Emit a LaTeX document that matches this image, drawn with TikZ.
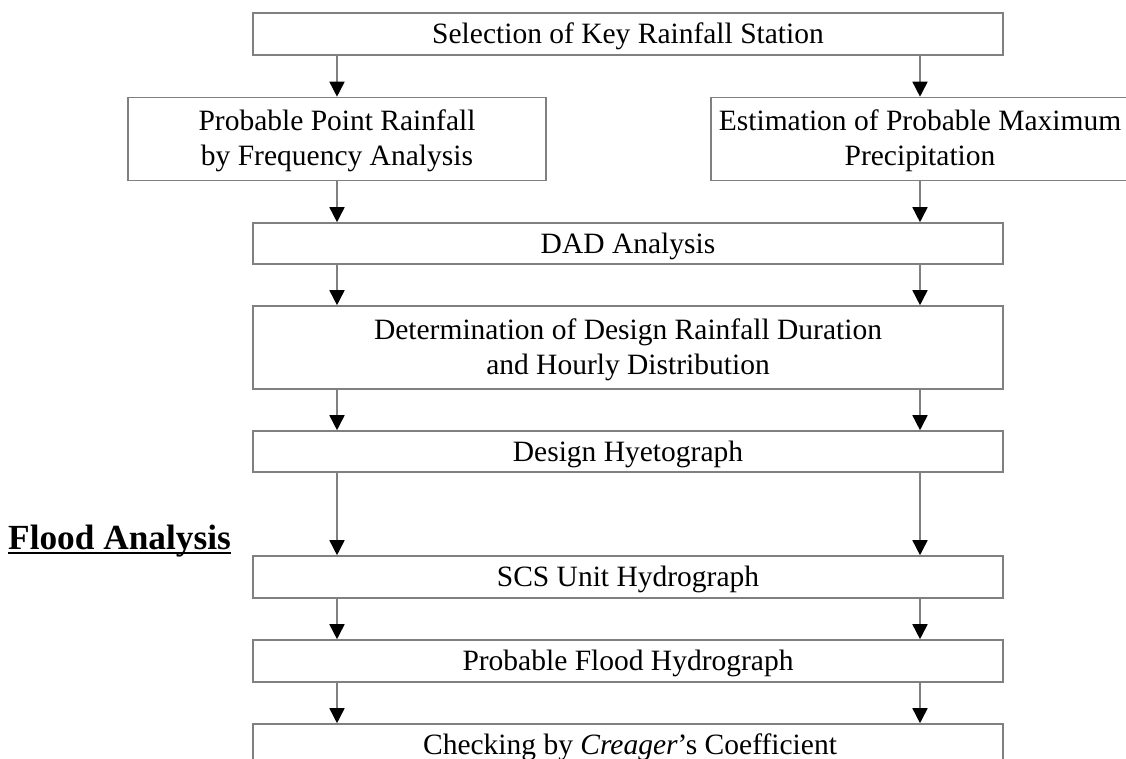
\documentclass[tikz,border=0pt]{standalone}
\usepackage{fontspec}
\setmainfont{Liberation Serif}
\usetikzlibrary{arrows.meta}
\definecolor{boxgray}{RGB}{128,128,128}
\begin{document}
\begin{tikzpicture}[x=1pt,y=-1pt,
  box/.style={draw=boxgray,line width=1.6pt,rectangle,inner sep=0pt,fill=white},
  wide/.style={box,minimum width=750pt},
  side/.style={box,minimum width=418pt,minimum height=83pt},
  txt/.style={anchor=base,inner sep=0pt,font=\fontsize{29.5}{35}\selectfont},
  ttl/.style={anchor=base west,inner sep=0pt,font=\fontsize{35.3}{40}\selectfont\bfseries},
  arr/.style={draw=boxgray,line width=1.6pt,-{Triangle[width=15pt,length=15pt,color=black]}}]
\useasboundingbox (0,0) rectangle (1126,758);

% boxes
\node[wide,minimum height=42pt] (top) at (628,34) {};
\node[side] (lbox) at (337,139) {};
\node[side] (rbox) at (920,139) {};
\node[wide,minimum height=41pt] (dad) at (628,243.5) {};
\node[wide,minimum height=83pt] (det) at (628,347.5) {};
\node[wide,minimum height=41pt] (hyet) at (628,451.5) {};
\node[wide,minimum height=42pt] (scs) at (628,577) {};
\node[wide,minimum height=42pt] (pfh) at (628,661) {};
\node[wide,minimum height=42pt] (chk) at (628,745) {};

% texts
\node[txt] (ttop) at (628,43.5) {Selection of Key Rainfall Station};
\node[txt] (tl) at (337,130.5) {\begin{tabular}[t]{@{}c@{}}Probable Point Rainfall\\by Frequency Analysis\end{tabular}};
\node[txt] (tr) at (920,130.5) {\begin{tabular}[t]{@{}c@{}}Estimation of Probable Maximum\\Precipitation\end{tabular}};
\node[txt] (tdad) at (628,253) {DAD Analysis};
\node[txt] (tdet) at (628,339) {\begin{tabular}[t]{@{}c@{}}Determination of Design Rainfall Duration\\and Hourly Distribution\end{tabular}};
\node[txt] (thyet) at (628,461) {Design Hyetograph};
\node[txt] (tscs) at (628,586.5) {SCS Unit Hydrograph};
\node[txt] (tpfh) at (628,670.5) {Probable Flood Hydrograph};
\node[txt] (tchk) at (630,754) {Checking by \textit{Creager}’s Coefficient};

\node[ttl] (flood) at (8,549) {Flood Analysis};
\draw[line width=2pt] ([yshift=-4pt]flood.base west) -- ([yshift=-4pt]flood.base east);

% connector columns
\coordinate (xL) at (337,0);
\coordinate (xR) at (920,0);

\draw[arr] (top.south -| xL) -- (lbox.north);
\draw[arr] (top.south -| xR) -- (rbox.north);
\draw[arr] (lbox.south) -- (dad.north -| xL);
\draw[arr] (rbox.south) -- (dad.north -| xR);
\foreach \a/\b in {dad/det,det/hyet,hyet/scs,scs/pfh,pfh/chk}{
  \draw[arr] (\a.south -| xL) -- (\b.north -| xL);
  \draw[arr] (\a.south -| xR) -- (\b.north -| xR);
}
\end{tikzpicture}
\end{document}
